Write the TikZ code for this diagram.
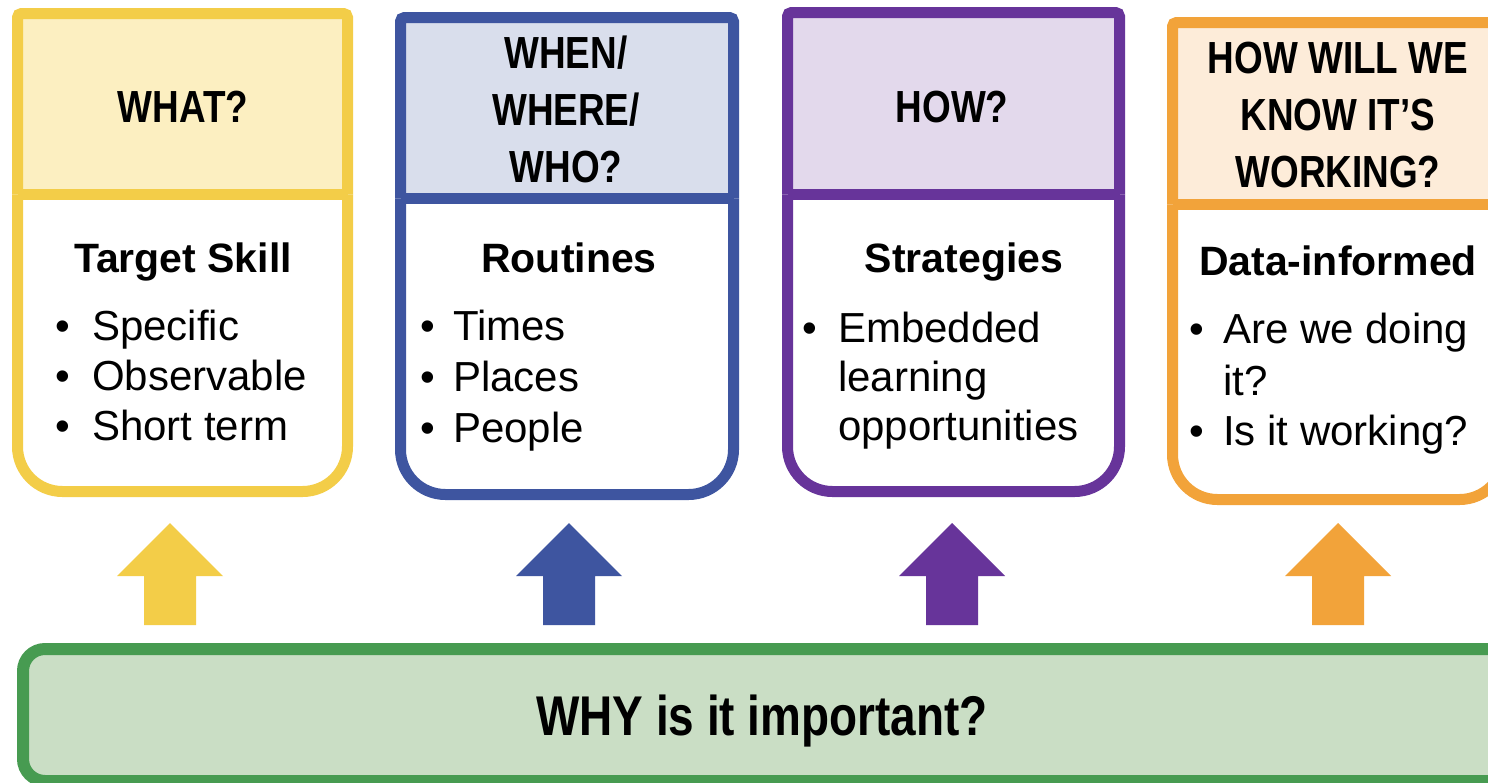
\documentclass[tikz,border=0pt]{standalone}
\usepackage{fontspec}
\setmainfont{Liberation Sans}
\newfontfamily\condfont{Liberation Sans}[FakeStretch=0.82]
\definecolor{cyel}{HTML}{F3CD48}
\definecolor{cyelhdr}{HTML}{FCEFC1}
\definecolor{cblu}{HTML}{3E55A0}
\definecolor{cbluhdr}{HTML}{D9DEEC}
\definecolor{cpur}{HTML}{67349A}
\definecolor{cpurhdr}{HTML}{E3D9EC}
\definecolor{cora}{HTML}{F2A33A}
\definecolor{corahdr}{HTML}{FDECD9}
\definecolor{cgrn}{HTML}{479B51}
\definecolor{cgrnfill}{HTML}{CADEC5}
% #1 L, #2 R, #3 T, #4 divider, #5 B, #6 colour
\newcommand\mypanel[6]{%
  \fill[#6hdr] (#1,#3) rectangle (#2,#4);
  \draw[line width=11pt,#6] (#1,#4) [rounded corners=4pt] -- (#1,#3) -- (#2,#3) -- (#2,#4);
  \draw[line width=11pt,#6] (#2,#4) [rounded corners=45pt] -- (#2,#5) -- (#1,#5) -- (#1,#4);
  \draw[line width=11pt,#6] (#1,#4) -- (#2,#4);
}
% #1 centre x, #2 colour
\newcommand\myuparrow[2]{%
  \fill[#2] (#1,523) -- (#1+53,576) -- (#1+26,576) -- (#1+26,625)
    -- (#1-26,625) -- (#1-26,576) -- (#1-53,576) -- cycle;
}
\begin{document}
\begin{tikzpicture}[x=1pt,y=-1pt,
  hdrtxt/.style={font=\condfont\bfseries\fontsize{45}{57}\selectfont, anchor=base, inner sep=0pt},
  whytxt/.style={font=\condfont\bfseries\fontsize{56}{66}\selectfont, anchor=base, inner sep=0pt},
  ttltxt/.style={font=\bfseries\fontsize{41}{50}\selectfont, anchor=base, inner sep=0pt},
  itmtxt/.style={font=\fontsize{42}{50}\selectfont, anchor=base west, inner sep=0pt},
  bultxt/.style={font=\fontsize{42}{50}\selectfont, anchor=base, inner sep=0pt}]
\useasboundingbox (0,0) rectangle (1488,782);
\fill[white] (0,0) rectangle (1488,782);

% panels
\mypanel{17.5}{347.5}{13.5}{194.5}{491.5}{cyel}
\mypanel{400.5}{733.5}{17.5}{198.5}{494.5}{cblu}
\mypanel{787.5}{1119.5}{12.5}{194.5}{491.5}{cpur}
\mypanel{1172.5}{1504.5}{22.5}{204.5}{499.5}{cora}

% yellow panel text
\node[hdrtxt] (what) at (183,122) {WHAT?};
\node[ttltxt] (target) at (183,272) {Target Skill};
\node[bultxt] (yb1) at (63,340) {•};
\node[itmtxt] (y1) at (92,340) {Specific};
\node[bultxt] (yb2) at (63,390) {•};
\node[itmtxt] (y2) at (92,390) {Observable};
\node[bultxt] (yb3) at (63,440) {•};
\node[itmtxt] (y3) at (92,440) {Short term};

% blue panel text
\node[hdrtxt] (when) at (566,68) {WHEN/};
\node[hdrtxt] (where) at (566,125) {WHERE/};
\node[hdrtxt] (who) at (566,182) {WHO?};
\node[ttltxt] (routines) at (569,272) {Routines};
\node[bultxt] (bb1) at (428,340) {•};
\node[itmtxt] (b1) at (453,340) {Times};
\node[bultxt] (bb2) at (428,391) {•};
\node[itmtxt] (b2) at (453,391) {Places};
\node[bultxt] (bb3) at (428,442) {•};
\node[itmtxt] (b3) at (453,442) {People};

% purple panel text
\node[hdrtxt] (how) at (952,122) {HOW?};
\node[ttltxt] (strategies) at (964,272) {Strategies};
\node[bultxt] (pb1) at (810,342) {•};
\node[itmtxt] (p1) at (838,342) {Embedded};
\node[itmtxt] (p2) at (838,391) {learning};
\node[itmtxt] (p3) at (838,440) {opportunities};

% orange panel text
\node[hdrtxt] (howwill) at (1338,73) {HOW WILL WE};
\node[hdrtxt] (knowits) at (1338,130) {KNOW IT’S};
\node[hdrtxt] (working) at (1338,187) {WORKING?};
\node[ttltxt] (data) at (1338,275) {Data-informed};
\node[bultxt] (ob1) at (1197,343) {•};
\node[itmtxt] (o1) at (1223,343) {Are we doing};
\node[itmtxt] (o2) at (1223,395) {it?};
\node[bultxt] (ob2) at (1197,445) {•};
\node[itmtxt] (o3) at (1223,445) {Is it working?};

% arrows
\myuparrow{170}{cyel}
\myuparrow{569}{cblu}
\myuparrow{952}{cpur}
\myuparrow{1338}{cora}

% bottom bar
\draw[line width=12pt, cgrn, fill=cgrnfill, rounded corners=22pt] (23,649) rectangle (1530,781);
\node[whytxt] (why) at (762,735) {WHY is it important?};
\end{tikzpicture}
\end{document}
